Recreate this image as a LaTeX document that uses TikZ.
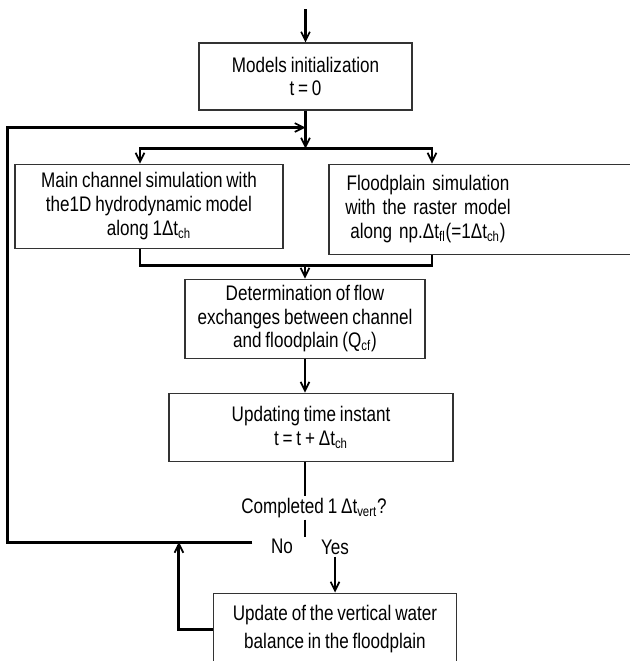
\documentclass[tikz,border=0pt]{standalone}
\usepackage{fontspec}
\setmainfont{Liberation Sans}[FakeStretch=0.81, WordSpace=0.81]
\usetikzlibrary{arrows.meta, positioning}

\begin{document}
\begin{tikzpicture}[
        box/.style={rectangle, draw=black!80, line width=0.6pt, align=center, inner sep=2pt, font=\fontsize{12}{13.5}\selectfont},
        line/.style={line width=1.7pt},
        flow/.style={line, -{Straight Barb[length=5pt, width=5pt, line width=1pt]}},
        lbl/.style={inner sep=1pt, font=\fontsize{12}{13.5}\selectfont}]

        \useasboundingbox (0,0) rectangle (12.58,-13.22);

        % Columna principal
        \node[box, minimum width=4.26cm, minimum height=1.34cm] (init) at (6.11,-1.53) {Models initialization\\t = 0};
        \node[box, below=1.06cm of init, xshift=-3.13cm, minimum width=5.36cm, minimum height=1.68cm] (chan) {Main channel simulation with\\the1D hydrodynamic model\\along 1Δt\textsubscript{ch}};
        % caja derecha: sale del borde, texto a la izquierda
        \node[box, below=1.06cm of init, xshift=3.58cm, minimum width=6.22cm, minimum height=1.8cm, inner xsep=0.28cm, text width=5.66cm, align=left] (flood) {\parbox{3.4cm}{\centering Floodplain simulation\\with the raster model\\along np.Δt\textsubscript{fl}(=1Δt\textsubscript{ch})}};
        \node[box, below=0.6cm of chan, xshift=3.12cm, minimum width=4.8cm, minimum height=1.58cm] (det) {Determination of flow\\exchanges between channel\\and floodplain (Q\textsubscript{cf})};
        \node[box, below=0.68cm of det, xshift=0.12cm, minimum width=5.68cm, minimum height=1.36cm] (upd) {Updating time instant\\t = t + Δt\textsubscript{ch}};
        \node[lbl, below=0.68cm of upd, xshift=0.06cm] (ask) {Completed 1 Δt\textsubscript{vert}?};
        \node[lbl, below=0.34cm of ask, xshift=-0.64cm] (no) {No};
        \node[lbl, below=0.36cm of ask, xshift=0.42cm] (yes) {Yes};
        \node[box, below=0.72cm of yes, minimum width=4.86cm, minimum height=1.44cm] (vert) {Update of the vertical water\\[2.5pt]balance in the floodplain};

        % Puntos auxiliares
        \coordinate[above=0.66cm of init.north] (entry);
        \coordinate[below=0.34cm of init.south] (join);
        \coordinate[below=0.76cm of init.south] (fork);
        \coordinate[above=0.26cm of det.north] (merge);
        \coordinate (noend) at ([xshift=-0.33cm, yshift=0.08cm]no.west);
        \coordinate[left=0.68cm of vert.west] (fb);

        % Flechas principales
        \draw[flow] (entry) -- (init);
        \draw[flow] (init) -- (fork);
        \draw[flow] (fork) -| ([xshift=-0.18cm]chan.north);
        \draw[flow] (fork) -| ([xshift=-1.05cm]flood.north);
        \draw[line] ([xshift=-0.18cm]chan.south) |- (merge) -| ([xshift=-1.05cm]flood.south);
        \draw[flow] (merge) -- (det);
        \draw[flow] (det) -- (det |- upd.north);
        \draw[line] (det |- upd.south) -- (det |- ask.north);
        \draw[line] (det |- ask.south) -- (det |- no.north);
        \draw[flow] (yes.south) -- (yes.south |- vert.north);

        % Retornos
        \draw[flow] (noend) -- ++(-4.9,0) |- (join);
        \draw[flow] (vert.west) -- (fb) -- (fb |- noend);

    \end{tikzpicture}
\end{document}
